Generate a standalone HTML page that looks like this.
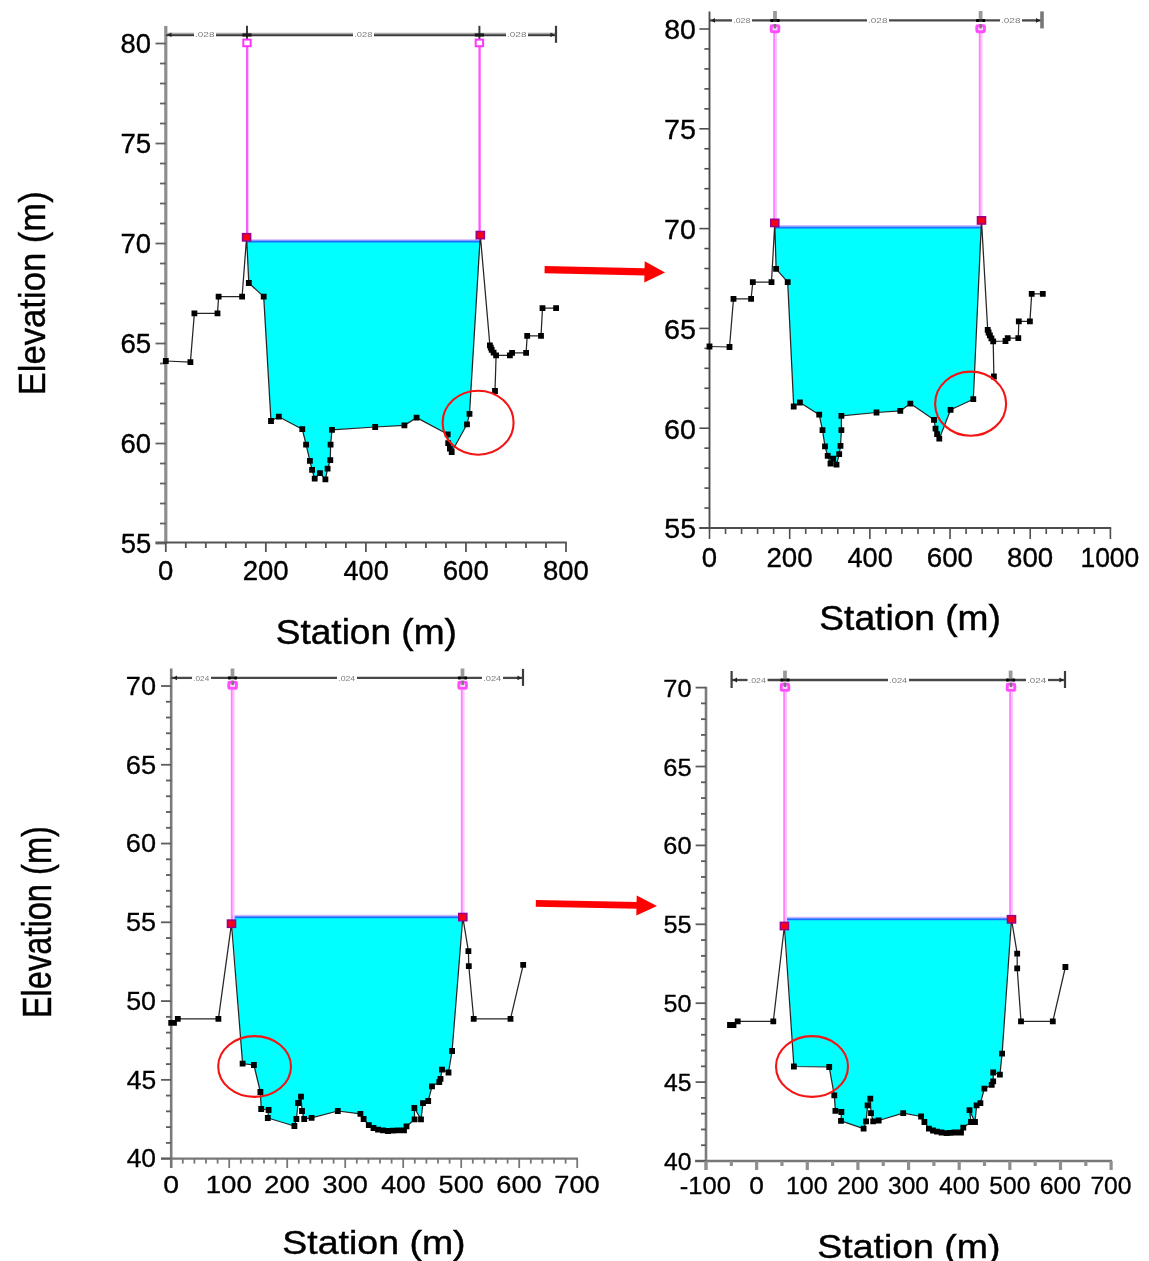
<!DOCTYPE html>
<html><head><meta charset="utf-8"><title>Cross sections</title>
<style>
html,body{margin:0;padding:0;background:#fff;}
body{width:1149px;height:1261px;overflow:hidden;}
svg{display:block;font-family:"Liberation Sans",sans-serif;filter:blur(0.7px);}
</style></head><body>
<svg width="1149" height="1261" viewBox="0 0 1149 1261">
<rect width="1149" height="1261" fill="#fff"/>
<polygon points="246.9,241.6 248.8,283.0 263.7,296.6 271.0,421.0 278.8,416.7 302.3,429.2 306.1,444.7 309.9,460.9 312.1,469.8 314.7,478.7 319.9,473.1 325.4,479.3 327.6,468.7 330.3,460.2 330.6,444.7 332.0,429.8 375.2,427.0 404.4,425.4 416.6,417.6 447.7,434.3 448.2,443.1 449.9,448.7 451.7,452.0 467.0,424.3 469.5,413.8 480.0,241.6" fill="#00ffff"/>
<line x1="246.60" y1="239.90" x2="480.30" y2="239.90" stroke="#d0b8ff" stroke-width="1.5" />
<line x1="247.10" y1="241.60" x2="480.30" y2="241.60" stroke="#1c70ff" stroke-width="2.0" />
<line x1="165.80" y1="26.00" x2="165.80" y2="543.50" stroke="#8e8e8e" stroke-width="3.2" />
<line x1="155.50" y1="542.60" x2="566.80" y2="542.60" stroke="#555" stroke-width="2.0" />
<line x1="155.50" y1="43.50" x2="165.80" y2="43.50" stroke="#626262" stroke-width="1.8" />
<line x1="155.50" y1="143.50" x2="165.80" y2="143.50" stroke="#626262" stroke-width="1.8" />
<line x1="155.50" y1="243.50" x2="165.80" y2="243.50" stroke="#626262" stroke-width="1.8" />
<line x1="155.50" y1="343.50" x2="165.80" y2="343.50" stroke="#626262" stroke-width="1.8" />
<line x1="155.50" y1="443.50" x2="165.80" y2="443.50" stroke="#626262" stroke-width="1.8" />
<line x1="155.50" y1="543.50" x2="165.80" y2="543.50" stroke="#626262" stroke-width="1.8" />
<line x1="160.00" y1="63.50" x2="165.80" y2="63.50" stroke="#626262" stroke-width="1.8" />
<line x1="160.00" y1="83.50" x2="165.80" y2="83.50" stroke="#626262" stroke-width="1.8" />
<line x1="160.00" y1="103.50" x2="165.80" y2="103.50" stroke="#626262" stroke-width="1.8" />
<line x1="160.00" y1="123.50" x2="165.80" y2="123.50" stroke="#626262" stroke-width="1.8" />
<line x1="160.00" y1="163.50" x2="165.80" y2="163.50" stroke="#626262" stroke-width="1.8" />
<line x1="160.00" y1="183.50" x2="165.80" y2="183.50" stroke="#626262" stroke-width="1.8" />
<line x1="160.00" y1="203.50" x2="165.80" y2="203.50" stroke="#626262" stroke-width="1.8" />
<line x1="160.00" y1="223.50" x2="165.80" y2="223.50" stroke="#626262" stroke-width="1.8" />
<line x1="160.00" y1="263.50" x2="165.80" y2="263.50" stroke="#626262" stroke-width="1.8" />
<line x1="160.00" y1="283.50" x2="165.80" y2="283.50" stroke="#626262" stroke-width="1.8" />
<line x1="160.00" y1="303.50" x2="165.80" y2="303.50" stroke="#626262" stroke-width="1.8" />
<line x1="160.00" y1="323.50" x2="165.80" y2="323.50" stroke="#626262" stroke-width="1.8" />
<line x1="160.00" y1="363.50" x2="165.80" y2="363.50" stroke="#626262" stroke-width="1.8" />
<line x1="160.00" y1="383.50" x2="165.80" y2="383.50" stroke="#626262" stroke-width="1.8" />
<line x1="160.00" y1="403.50" x2="165.80" y2="403.50" stroke="#626262" stroke-width="1.8" />
<line x1="160.00" y1="423.50" x2="165.80" y2="423.50" stroke="#626262" stroke-width="1.8" />
<line x1="160.00" y1="463.50" x2="165.80" y2="463.50" stroke="#626262" stroke-width="1.8" />
<line x1="160.00" y1="483.50" x2="165.80" y2="483.50" stroke="#626262" stroke-width="1.8" />
<line x1="160.00" y1="503.50" x2="165.80" y2="503.50" stroke="#626262" stroke-width="1.8" />
<line x1="160.00" y1="523.50" x2="165.80" y2="523.50" stroke="#626262" stroke-width="1.8" />
<line x1="165.80" y1="542.60" x2="165.80" y2="552.00" stroke="#555" stroke-width="1.8" />
<line x1="265.85" y1="542.60" x2="265.85" y2="552.00" stroke="#555" stroke-width="1.8" />
<line x1="365.90" y1="542.60" x2="365.90" y2="552.00" stroke="#555" stroke-width="1.8" />
<line x1="465.95" y1="542.60" x2="465.95" y2="552.00" stroke="#555" stroke-width="1.8" />
<line x1="566.00" y1="542.60" x2="566.00" y2="552.00" stroke="#555" stroke-width="1.8" />
<line x1="185.81" y1="542.60" x2="185.81" y2="548.00" stroke="#555" stroke-width="1.8" />
<line x1="205.82" y1="542.60" x2="205.82" y2="548.00" stroke="#555" stroke-width="1.8" />
<line x1="225.83" y1="542.60" x2="225.83" y2="548.00" stroke="#555" stroke-width="1.8" />
<line x1="245.84" y1="542.60" x2="245.84" y2="548.00" stroke="#555" stroke-width="1.8" />
<line x1="285.86" y1="542.60" x2="285.86" y2="548.00" stroke="#555" stroke-width="1.8" />
<line x1="305.87" y1="542.60" x2="305.87" y2="548.00" stroke="#555" stroke-width="1.8" />
<line x1="325.88" y1="542.60" x2="325.88" y2="548.00" stroke="#555" stroke-width="1.8" />
<line x1="345.89" y1="542.60" x2="345.89" y2="548.00" stroke="#555" stroke-width="1.8" />
<line x1="385.91" y1="542.60" x2="385.91" y2="548.00" stroke="#555" stroke-width="1.8" />
<line x1="405.92" y1="542.60" x2="405.92" y2="548.00" stroke="#555" stroke-width="1.8" />
<line x1="425.93" y1="542.60" x2="425.93" y2="548.00" stroke="#555" stroke-width="1.8" />
<line x1="445.94" y1="542.60" x2="445.94" y2="548.00" stroke="#555" stroke-width="1.8" />
<line x1="485.96" y1="542.60" x2="485.96" y2="548.00" stroke="#555" stroke-width="1.8" />
<line x1="505.97" y1="542.60" x2="505.97" y2="548.00" stroke="#555" stroke-width="1.8" />
<line x1="525.98" y1="542.60" x2="525.98" y2="548.00" stroke="#555" stroke-width="1.8" />
<line x1="545.99" y1="542.60" x2="545.99" y2="548.00" stroke="#555" stroke-width="1.8" />
<line x1="166.00" y1="33.50" x2="194.00" y2="33.50" stroke="#a8a8a8" stroke-width="1.6" />
<line x1="166.00" y1="35.20" x2="194.00" y2="35.20" stroke="#383838" stroke-width="2.0" />
<line x1="216.00" y1="33.50" x2="353.00" y2="33.50" stroke="#a8a8a8" stroke-width="1.6" />
<line x1="216.00" y1="35.20" x2="353.00" y2="35.20" stroke="#383838" stroke-width="2.0" />
<line x1="374.00" y1="33.50" x2="506.00" y2="33.50" stroke="#a8a8a8" stroke-width="1.6" />
<line x1="374.00" y1="35.20" x2="506.00" y2="35.20" stroke="#383838" stroke-width="2.0" />
<line x1="528.00" y1="33.50" x2="556.00" y2="33.50" stroke="#a8a8a8" stroke-width="1.6" />
<line x1="528.00" y1="35.20" x2="556.00" y2="35.20" stroke="#383838" stroke-width="2.0" />
<text transform="matrix(0.0992 0 0 0.0743 195.11 37.40)" font-size="100" fill="#7c7c7c" stroke="#7c7c7c" stroke-width="0">.028</text>
<text transform="matrix(0.0937 0 0 0.0743 354.16 37.40)" font-size="100" fill="#7c7c7c" stroke="#7c7c7c" stroke-width="0">.028</text>
<text transform="matrix(0.0992 0 0 0.0743 507.11 37.40)" font-size="100" fill="#7c7c7c" stroke="#7c7c7c" stroke-width="0">.028</text>
<line x1="247.00" y1="25.80" x2="247.00" y2="40.80" stroke="#3c3c3c" stroke-width="2.0" />
<line x1="242.40" y1="35.00" x2="251.60" y2="35.00" stroke="#1a1a1a" stroke-width="3.2" />
<line x1="479.40" y1="25.80" x2="479.40" y2="40.80" stroke="#3c3c3c" stroke-width="2.0" />
<line x1="474.80" y1="35.00" x2="484.00" y2="35.00" stroke="#1a1a1a" stroke-width="3.2" />
<line x1="556.00" y1="25.80" x2="556.00" y2="42.80" stroke="#3c3c3c" stroke-width="2.2" />
<path d="M167.5 34.8l4 -2.4v4.8z" fill="#222"/>
<path d="M554.5 34.8l-4 -2.4v4.8z" fill="#222"/>
<line x1="247.20" y1="47.00" x2="247.20" y2="234.00" stroke="#ff54ff" stroke-width="2.3" />
<rect x="243.3" y="39.6" width="7.4" height="6.6" fill="#fff" stroke="#ff36ff" stroke-width="2.0"/>
<line x1="479.60" y1="47.00" x2="479.60" y2="232.00" stroke="#ff54ff" stroke-width="2.3" />
<rect x="475.7" y="39.6" width="7.4" height="6.6" fill="#fff" stroke="#ff36ff" stroke-width="2.0"/>
<polyline points="165.8,361.0 190.4,362.1 194.4,313.3 217.5,313.3 218.6,296.6 242.1,296.6 246.6,237.3 248.8,283.0 263.7,296.6 271.0,421.0 278.8,416.7 302.3,429.2 306.1,444.7 309.9,460.9 312.1,469.8 314.7,478.7 319.9,473.1 325.4,479.3 327.6,468.7 330.3,460.2 330.6,444.7 332.0,429.8 375.2,427.0 404.4,425.4 416.6,417.6 447.7,434.3 448.2,443.1 449.9,448.7 451.7,452.0 467.0,424.3 469.5,413.8 480.3,235.1 489.9,345.4 490.8,347.6 491.7,349.9 493.6,352.6 496.1,355.4 495.0,391.0 496.1,355.4 509.9,355.4 512.1,352.8 526.1,352.8 527.2,335.9 541.0,335.9 542.5,308.1 556.1,308.1" fill="none" stroke="#262626" stroke-width="1.25" stroke-linejoin="round" />
<path d="M162.9 358.1h5.8v5.8h-5.8zM187.5 359.2h5.8v5.8h-5.8zM191.5 310.4h5.8v5.8h-5.8zM214.6 310.4h5.8v5.8h-5.8zM215.7 293.7h5.8v5.8h-5.8zM239.2 293.7h5.8v5.8h-5.8zM245.9 280.1h5.8v5.8h-5.8zM260.8 293.7h5.8v5.8h-5.8zM268.1 418.1h5.8v5.8h-5.8zM275.9 413.8h5.8v5.8h-5.8zM299.4 426.3h5.8v5.8h-5.8zM303.2 441.8h5.8v5.8h-5.8zM307.0 458.0h5.8v5.8h-5.8zM309.2 466.9h5.8v5.8h-5.8zM311.8 475.8h5.8v5.8h-5.8zM317.0 470.2h5.8v5.8h-5.8zM322.5 476.4h5.8v5.8h-5.8zM324.7 465.8h5.8v5.8h-5.8zM327.4 457.3h5.8v5.8h-5.8zM327.7 441.8h5.8v5.8h-5.8zM329.1 426.9h5.8v5.8h-5.8zM372.3 424.1h5.8v5.8h-5.8zM401.5 422.5h5.8v5.8h-5.8zM413.7 414.7h5.8v5.8h-5.8zM444.8 431.4h5.8v5.8h-5.8zM445.3 440.2h5.8v5.8h-5.8zM447.0 445.8h5.8v5.8h-5.8zM448.8 449.1h5.8v5.8h-5.8zM464.1 421.4h5.8v5.8h-5.8zM466.6 410.9h5.8v5.8h-5.8zM487.0 342.5h5.8v5.8h-5.8zM487.9 344.7h5.8v5.8h-5.8zM488.8 347.0h5.8v5.8h-5.8zM490.7 349.7h5.8v5.8h-5.8zM493.2 352.5h5.8v5.8h-5.8zM492.1 388.1h5.8v5.8h-5.8zM493.2 352.5h5.8v5.8h-5.8zM507.0 352.5h5.8v5.8h-5.8zM509.2 349.9h5.8v5.8h-5.8zM523.2 349.9h5.8v5.8h-5.8zM524.3 333.0h5.8v5.8h-5.8zM538.1 333.0h5.8v5.8h-5.8zM539.6 305.2h5.8v5.8h-5.8zM553.2 305.2h5.8v5.8h-5.8z" fill="#000"/>
<rect x="242.6" y="233.7" width="8.0" height="7.2" fill="#fa0014" stroke="#9c0088" stroke-width="1.6"/>
<rect x="476.3" y="231.5" width="8.0" height="7.2" fill="#fa0014" stroke="#9c0088" stroke-width="1.6"/>
<ellipse cx="478.1" cy="422.7" rx="35.5" ry="32" fill="none" stroke="#f41414" stroke-width="2.1"/>
<text transform="matrix(0.2738 0 0 0.2743 120.57 53.10)" font-size="100" fill="#000" stroke="#000" stroke-width="1.3">80</text>
<text transform="matrix(0.2765 0 0 0.2783 120.42 153.10)" font-size="100" fill="#000" stroke="#000" stroke-width="1.3">75</text>
<text transform="matrix(0.2751 0 0 0.2743 120.42 253.10)" font-size="100" fill="#000" stroke="#000" stroke-width="1.3">70</text>
<text transform="matrix(0.2765 0 0 0.2743 120.42 353.10)" font-size="100" fill="#000" stroke="#000" stroke-width="1.3">65</text>
<text transform="matrix(0.2751 0 0 0.2743 120.42 453.10)" font-size="100" fill="#000" stroke="#000" stroke-width="1.3">60</text>
<text transform="matrix(0.2738 0 0 0.2783 120.70 553.10)" font-size="100" fill="#000" stroke="#000" stroke-width="1.3">55</text>
<text transform="matrix(0.2750 0 0 0.2686 158.10 579.60)" font-size="100" fill="#000" stroke="#000" stroke-width="1.3">0</text>
<text transform="matrix(0.2759 0 0 0.2686 242.67 579.60)" font-size="100" fill="#000" stroke="#000" stroke-width="1.3">200</text>
<text transform="matrix(0.2708 0 0 0.2686 343.56 579.60)" font-size="100" fill="#000" stroke="#000" stroke-width="1.3">400</text>
<text transform="matrix(0.2759 0 0 0.2686 442.77 579.60)" font-size="100" fill="#000" stroke="#000" stroke-width="1.3">600</text>
<text transform="matrix(0.2751 0 0 0.2686 542.96 579.60)" font-size="100" fill="#000" stroke="#000" stroke-width="1.3">800</text>
<polygon points="775.1,227.4 776.1,268.8 787.7,282.1 793.7,406.5 799.9,402.5 819.2,414.7 822.5,430.2 825.0,446.4 827.7,455.8 830.5,463.5 833.2,458.7 836.5,464.6 839.2,454.2 840.5,445.8 841.4,430.2 841.4,415.8 876.5,412.5 900.3,410.9 910.3,403.6 934.0,419.8 935.5,428.7 937.1,434.2 939.3,438.7 950.6,409.8 973.3,399.2 981.2,227.4" fill="#00ffff"/>
<line x1="774.80" y1="225.70" x2="981.50" y2="225.70" stroke="#d0b8ff" stroke-width="1.5" />
<line x1="775.30" y1="227.40" x2="981.50" y2="227.40" stroke="#1c70ff" stroke-width="2.0" />
<line x1="709.50" y1="11.60" x2="709.50" y2="528.80" stroke="#4e4e4e" stroke-width="1.9" />
<line x1="699.40" y1="528.00" x2="1111.20" y2="528.00" stroke="#4e4e4e" stroke-width="1.9" />
<line x1="699.40" y1="29.00" x2="709.50" y2="29.00" stroke="#4e4e4e" stroke-width="1.6" />
<line x1="699.40" y1="128.80" x2="709.50" y2="128.80" stroke="#4e4e4e" stroke-width="1.6" />
<line x1="699.40" y1="228.60" x2="709.50" y2="228.60" stroke="#4e4e4e" stroke-width="1.6" />
<line x1="699.40" y1="328.40" x2="709.50" y2="328.40" stroke="#4e4e4e" stroke-width="1.6" />
<line x1="699.40" y1="428.20" x2="709.50" y2="428.20" stroke="#4e4e4e" stroke-width="1.6" />
<line x1="699.40" y1="528.00" x2="709.50" y2="528.00" stroke="#4e4e4e" stroke-width="1.6" />
<line x1="704.40" y1="48.96" x2="709.50" y2="48.96" stroke="#4e4e4e" stroke-width="1.6" />
<line x1="704.40" y1="68.92" x2="709.50" y2="68.92" stroke="#4e4e4e" stroke-width="1.6" />
<line x1="704.40" y1="88.88" x2="709.50" y2="88.88" stroke="#4e4e4e" stroke-width="1.6" />
<line x1="704.40" y1="108.84" x2="709.50" y2="108.84" stroke="#4e4e4e" stroke-width="1.6" />
<line x1="704.40" y1="148.76" x2="709.50" y2="148.76" stroke="#4e4e4e" stroke-width="1.6" />
<line x1="704.40" y1="168.72" x2="709.50" y2="168.72" stroke="#4e4e4e" stroke-width="1.6" />
<line x1="704.40" y1="188.68" x2="709.50" y2="188.68" stroke="#4e4e4e" stroke-width="1.6" />
<line x1="704.40" y1="208.64" x2="709.50" y2="208.64" stroke="#4e4e4e" stroke-width="1.6" />
<line x1="704.40" y1="248.56" x2="709.50" y2="248.56" stroke="#4e4e4e" stroke-width="1.6" />
<line x1="704.40" y1="268.52" x2="709.50" y2="268.52" stroke="#4e4e4e" stroke-width="1.6" />
<line x1="704.40" y1="288.48" x2="709.50" y2="288.48" stroke="#4e4e4e" stroke-width="1.6" />
<line x1="704.40" y1="308.44" x2="709.50" y2="308.44" stroke="#4e4e4e" stroke-width="1.6" />
<line x1="704.40" y1="348.36" x2="709.50" y2="348.36" stroke="#4e4e4e" stroke-width="1.6" />
<line x1="704.40" y1="368.32" x2="709.50" y2="368.32" stroke="#4e4e4e" stroke-width="1.6" />
<line x1="704.40" y1="388.28" x2="709.50" y2="388.28" stroke="#4e4e4e" stroke-width="1.6" />
<line x1="704.40" y1="408.24" x2="709.50" y2="408.24" stroke="#4e4e4e" stroke-width="1.6" />
<line x1="704.40" y1="448.16" x2="709.50" y2="448.16" stroke="#4e4e4e" stroke-width="1.6" />
<line x1="704.40" y1="468.12" x2="709.50" y2="468.12" stroke="#4e4e4e" stroke-width="1.6" />
<line x1="704.40" y1="488.08" x2="709.50" y2="488.08" stroke="#4e4e4e" stroke-width="1.6" />
<line x1="704.40" y1="508.04" x2="709.50" y2="508.04" stroke="#4e4e4e" stroke-width="1.6" />
<line x1="709.50" y1="528.00" x2="709.50" y2="539.00" stroke="#4e4e4e" stroke-width="1.6" />
<line x1="789.68" y1="528.00" x2="789.68" y2="539.00" stroke="#4e4e4e" stroke-width="1.6" />
<line x1="869.86" y1="528.00" x2="869.86" y2="539.00" stroke="#4e4e4e" stroke-width="1.6" />
<line x1="950.04" y1="528.00" x2="950.04" y2="539.00" stroke="#4e4e4e" stroke-width="1.6" />
<line x1="1030.22" y1="528.00" x2="1030.22" y2="539.00" stroke="#4e4e4e" stroke-width="1.6" />
<line x1="1110.40" y1="528.00" x2="1110.40" y2="539.00" stroke="#4e4e4e" stroke-width="1.6" />
<line x1="725.54" y1="528.00" x2="725.54" y2="534.00" stroke="#4e4e4e" stroke-width="1.6" />
<line x1="741.57" y1="528.00" x2="741.57" y2="534.00" stroke="#4e4e4e" stroke-width="1.6" />
<line x1="757.61" y1="528.00" x2="757.61" y2="534.00" stroke="#4e4e4e" stroke-width="1.6" />
<line x1="773.64" y1="528.00" x2="773.64" y2="534.00" stroke="#4e4e4e" stroke-width="1.6" />
<line x1="805.72" y1="528.00" x2="805.72" y2="534.00" stroke="#4e4e4e" stroke-width="1.6" />
<line x1="821.75" y1="528.00" x2="821.75" y2="534.00" stroke="#4e4e4e" stroke-width="1.6" />
<line x1="837.79" y1="528.00" x2="837.79" y2="534.00" stroke="#4e4e4e" stroke-width="1.6" />
<line x1="853.82" y1="528.00" x2="853.82" y2="534.00" stroke="#4e4e4e" stroke-width="1.6" />
<line x1="885.90" y1="528.00" x2="885.90" y2="534.00" stroke="#4e4e4e" stroke-width="1.6" />
<line x1="901.93" y1="528.00" x2="901.93" y2="534.00" stroke="#4e4e4e" stroke-width="1.6" />
<line x1="917.97" y1="528.00" x2="917.97" y2="534.00" stroke="#4e4e4e" stroke-width="1.6" />
<line x1="934.00" y1="528.00" x2="934.00" y2="534.00" stroke="#4e4e4e" stroke-width="1.6" />
<line x1="966.08" y1="528.00" x2="966.08" y2="534.00" stroke="#4e4e4e" stroke-width="1.6" />
<line x1="982.11" y1="528.00" x2="982.11" y2="534.00" stroke="#4e4e4e" stroke-width="1.6" />
<line x1="998.15" y1="528.00" x2="998.15" y2="534.00" stroke="#4e4e4e" stroke-width="1.6" />
<line x1="1014.18" y1="528.00" x2="1014.18" y2="534.00" stroke="#4e4e4e" stroke-width="1.6" />
<line x1="1046.26" y1="528.00" x2="1046.26" y2="534.00" stroke="#4e4e4e" stroke-width="1.6" />
<line x1="1062.29" y1="528.00" x2="1062.29" y2="534.00" stroke="#4e4e4e" stroke-width="1.6" />
<line x1="1078.33" y1="528.00" x2="1078.33" y2="534.00" stroke="#4e4e4e" stroke-width="1.6" />
<line x1="1094.36" y1="528.00" x2="1094.36" y2="534.00" stroke="#4e4e4e" stroke-width="1.6" />
<line x1="709.50" y1="20.40" x2="732.00" y2="20.40" stroke="#484848" stroke-width="2.3" />
<line x1="752.00" y1="20.40" x2="867.00" y2="20.40" stroke="#484848" stroke-width="2.3" />
<line x1="889.00" y1="20.40" x2="1000.00" y2="20.40" stroke="#484848" stroke-width="2.3" />
<line x1="1022.00" y1="20.40" x2="1042.00" y2="20.40" stroke="#484848" stroke-width="2.3" />
<text transform="matrix(0.0882 0 0 0.0743 733.21 23.00)" font-size="100" fill="#7c7c7c" stroke="#7c7c7c" stroke-width="0">.028</text>
<text transform="matrix(0.0992 0 0 0.0743 868.11 23.00)" font-size="100" fill="#7c7c7c" stroke="#7c7c7c" stroke-width="0">.028</text>
<text transform="matrix(0.0992 0 0 0.0743 1001.11 23.00)" font-size="100" fill="#7c7c7c" stroke="#7c7c7c" stroke-width="0">.028</text>
<line x1="775.00" y1="11.00" x2="775.00" y2="20.40" stroke="#9a9a9a" stroke-width="3.8" />
<line x1="770.40" y1="20.40" x2="779.60" y2="20.40" stroke="#222" stroke-width="2.6" />
<circle cx="771.9" cy="20.4" r="1.5" fill="#000"/><circle cx="778.1" cy="20.4" r="1.5" fill="#000"/>
<line x1="980.60" y1="11.00" x2="980.60" y2="20.40" stroke="#9a9a9a" stroke-width="3.8" />
<line x1="976.00" y1="20.40" x2="985.20" y2="20.40" stroke="#222" stroke-width="2.6" />
<circle cx="977.5" cy="20.4" r="1.5" fill="#000"/><circle cx="983.7" cy="20.4" r="1.5" fill="#000"/>
<line x1="1042.00" y1="11.40" x2="1042.00" y2="28.40" stroke="#777" stroke-width="3.6" />
<path d="M711.0 20.4l4 -2.4v4.8z" fill="#222"/>
<path d="M1040.0 20.4l-4 -2.4v4.8z" fill="#222"/>
<line x1="774.20" y1="33.00" x2="774.20" y2="220.00" stroke="#ff80ff" stroke-width="2.0" />
<line x1="776.10" y1="33.00" x2="776.10" y2="220.00" stroke="#ffc6ff" stroke-width="1.8" />
<rect x="771.2" y="25.6" width="7.6" height="6.2" rx="1" fill="#fdf" stroke="#ff4cff" stroke-width="2.9"/>
<line x1="775.00" y1="24.00" x2="775.00" y2="28.50" stroke="#777" stroke-width="2.4" />
<line x1="979.80" y1="33.00" x2="979.80" y2="217.00" stroke="#ff80ff" stroke-width="2.0" />
<line x1="981.70" y1="33.00" x2="981.70" y2="217.00" stroke="#ffc6ff" stroke-width="1.8" />
<rect x="976.8" y="25.6" width="7.6" height="6.2" rx="1" fill="#fdf" stroke="#ff4cff" stroke-width="2.9"/>
<line x1="980.60" y1="24.00" x2="980.60" y2="28.50" stroke="#777" stroke-width="2.4" />
<polyline points="709.5,346.5 729.5,347.0 733.5,298.8 751.1,298.8 752.8,282.1 771.5,282.1 774.8,222.9 776.1,268.8 787.7,282.1 793.7,406.5 799.9,402.5 819.2,414.7 822.5,430.2 825.0,446.4 827.7,455.8 830.5,463.5 833.2,458.7 836.5,464.6 839.2,454.2 840.5,445.8 841.4,430.2 841.4,415.8 876.5,412.5 900.3,410.9 910.3,403.6 934.0,419.8 935.5,428.7 937.1,434.2 939.3,438.7 950.6,409.8 973.3,399.2 981.5,220.4 987.7,329.9 988.6,332.5 989.9,335.4 991.4,338.4 993.2,341.4 993.9,376.5 993.2,341.4 1005.5,341.0 1007.7,338.1 1018.3,338.1 1018.8,321.4 1029.9,321.4 1031.7,293.9 1042.8,293.9" fill="none" stroke="#262626" stroke-width="1.25" stroke-linejoin="round" />
<path d="M706.6 343.6h5.8v5.8h-5.8zM726.6 344.1h5.8v5.8h-5.8zM730.6 295.9h5.8v5.8h-5.8zM748.2 295.9h5.8v5.8h-5.8zM749.9 279.2h5.8v5.8h-5.8zM768.6 279.2h5.8v5.8h-5.8zM773.2 265.9h5.8v5.8h-5.8zM784.8 279.2h5.8v5.8h-5.8zM790.8 403.6h5.8v5.8h-5.8zM797.0 399.6h5.8v5.8h-5.8zM816.3 411.8h5.8v5.8h-5.8zM819.6 427.3h5.8v5.8h-5.8zM822.1 443.5h5.8v5.8h-5.8zM824.8 452.9h5.8v5.8h-5.8zM827.6 460.6h5.8v5.8h-5.8zM830.3 455.8h5.8v5.8h-5.8zM833.6 461.7h5.8v5.8h-5.8zM836.3 451.3h5.8v5.8h-5.8zM837.6 442.9h5.8v5.8h-5.8zM838.5 427.3h5.8v5.8h-5.8zM838.5 412.9h5.8v5.8h-5.8zM873.6 409.6h5.8v5.8h-5.8zM897.4 408.0h5.8v5.8h-5.8zM907.4 400.7h5.8v5.8h-5.8zM931.1 416.9h5.8v5.8h-5.8zM932.6 425.8h5.8v5.8h-5.8zM934.2 431.3h5.8v5.8h-5.8zM936.4 435.8h5.8v5.8h-5.8zM947.7 406.9h5.8v5.8h-5.8zM970.4 396.3h5.8v5.8h-5.8zM984.8 327.0h5.8v5.8h-5.8zM985.7 329.6h5.8v5.8h-5.8zM987.0 332.5h5.8v5.8h-5.8zM988.5 335.5h5.8v5.8h-5.8zM990.3 338.5h5.8v5.8h-5.8zM991.0 373.6h5.8v5.8h-5.8zM990.3 338.5h5.8v5.8h-5.8zM1002.6 338.1h5.8v5.8h-5.8zM1004.8 335.2h5.8v5.8h-5.8zM1015.4 335.2h5.8v5.8h-5.8zM1015.9 318.5h5.8v5.8h-5.8zM1027.0 318.5h5.8v5.8h-5.8zM1028.8 291.0h5.8v5.8h-5.8zM1039.9 291.0h5.8v5.8h-5.8z" fill="#000"/>
<rect x="770.8" y="219.3" width="8.0" height="7.2" fill="#fa0014" stroke="#9c0088" stroke-width="1.6"/>
<rect x="977.5" y="216.8" width="8.0" height="7.2" fill="#fa0014" stroke="#9c0088" stroke-width="1.6"/>
<ellipse cx="970.6" cy="403.7" rx="35.5" ry="32.1" fill="none" stroke="#f41414" stroke-width="2.1"/>
<text transform="matrix(0.2845 0 0 0.2714 664.22 39.40)" font-size="100" fill="#000" stroke="#000" stroke-width="1.3">80</text>
<text transform="matrix(0.2873 0 0 0.2754 664.06 139.20)" font-size="100" fill="#000" stroke="#000" stroke-width="1.3">75</text>
<text transform="matrix(0.2859 0 0 0.2714 664.07 239.00)" font-size="100" fill="#000" stroke="#000" stroke-width="1.3">70</text>
<text transform="matrix(0.2873 0 0 0.2714 664.06 338.80)" font-size="100" fill="#000" stroke="#000" stroke-width="1.3">65</text>
<text transform="matrix(0.2859 0 0 0.2714 664.07 438.60)" font-size="100" fill="#000" stroke="#000" stroke-width="1.3">60</text>
<text transform="matrix(0.2845 0 0 0.2754 664.36 538.40)" font-size="100" fill="#000" stroke="#000" stroke-width="1.3">55</text>
<text transform="matrix(0.2750 0 0 0.2714 701.80 566.60)" font-size="100" fill="#000" stroke="#000" stroke-width="1.3">0</text>
<text transform="matrix(0.2772 0 0 0.2714 766.39 566.60)" font-size="100" fill="#000" stroke="#000" stroke-width="1.3">200</text>
<text transform="matrix(0.2720 0 0 0.2714 847.42 566.60)" font-size="100" fill="#000" stroke="#000" stroke-width="1.3">400</text>
<text transform="matrix(0.2772 0 0 0.2714 926.75 566.60)" font-size="100" fill="#000" stroke="#000" stroke-width="1.3">600</text>
<text transform="matrix(0.2763 0 0 0.2714 1007.08 566.60)" font-size="100" fill="#000" stroke="#000" stroke-width="1.3">800</text>
<text transform="matrix(0.2648 0 0 0.2714 1080.41 566.60)" font-size="100" fill="#000" stroke="#000" stroke-width="1.3">1000</text>
<polygon points="231.8,917.2 242.6,1063.6 253.9,1065.0 260.4,1092.0 261.2,1109.0 268.6,1110.0 267.8,1118.0 294.4,1126.0 296.4,1119.0 298.1,1103.0 301.0,1096.6 302.0,1111.0 304.2,1119.0 311.6,1117.8 337.8,1111.0 360.4,1113.9 363.6,1119.0 368.8,1125.2 373.5,1128.0 378.0,1129.6 383.0,1130.4 388.0,1131.0 393.0,1130.6 398.0,1130.4 401.0,1130.4 404.0,1130.4 406.5,1126.3 414.6,1119.4 414.4,1108.0 421.0,1119.4 423.0,1103.1 428.2,1101.0 432.0,1086.3 439.3,1082.0 440.5,1078.8 442.0,1069.7 448.5,1072.5 452.1,1051.0 462.5,917.2" fill="#00ffff"/>
<line x1="231.50" y1="915.50" x2="462.80" y2="915.50" stroke="#d0b8ff" stroke-width="1.5" />
<line x1="232.00" y1="917.20" x2="462.80" y2="917.20" stroke="#1c70ff" stroke-width="2.0" />
<line x1="171.20" y1="668.60" x2="171.20" y2="1168.00" stroke="#7c7c7c" stroke-width="2.6" />
<line x1="161.00" y1="1158.60" x2="578.00" y2="1158.60" stroke="#777" stroke-width="2.4" />
<line x1="161.00" y1="686.00" x2="171.20" y2="686.00" stroke="#5c5c5c" stroke-width="1.8" />
<line x1="161.00" y1="764.77" x2="171.20" y2="764.77" stroke="#5c5c5c" stroke-width="1.8" />
<line x1="161.00" y1="843.54" x2="171.20" y2="843.54" stroke="#5c5c5c" stroke-width="1.8" />
<line x1="161.00" y1="922.31" x2="171.20" y2="922.31" stroke="#5c5c5c" stroke-width="1.8" />
<line x1="161.00" y1="1001.08" x2="171.20" y2="1001.08" stroke="#5c5c5c" stroke-width="1.8" />
<line x1="161.00" y1="1079.85" x2="171.20" y2="1079.85" stroke="#5c5c5c" stroke-width="1.8" />
<line x1="161.00" y1="1158.62" x2="171.20" y2="1158.62" stroke="#5c5c5c" stroke-width="1.8" />
<line x1="166.00" y1="701.75" x2="171.20" y2="701.75" stroke="#5c5c5c" stroke-width="1.8" />
<line x1="166.00" y1="717.51" x2="171.20" y2="717.51" stroke="#5c5c5c" stroke-width="1.8" />
<line x1="166.00" y1="733.26" x2="171.20" y2="733.26" stroke="#5c5c5c" stroke-width="1.8" />
<line x1="166.00" y1="749.02" x2="171.20" y2="749.02" stroke="#5c5c5c" stroke-width="1.8" />
<line x1="166.00" y1="780.52" x2="171.20" y2="780.52" stroke="#5c5c5c" stroke-width="1.8" />
<line x1="166.00" y1="796.28" x2="171.20" y2="796.28" stroke="#5c5c5c" stroke-width="1.8" />
<line x1="166.00" y1="812.03" x2="171.20" y2="812.03" stroke="#5c5c5c" stroke-width="1.8" />
<line x1="166.00" y1="827.79" x2="171.20" y2="827.79" stroke="#5c5c5c" stroke-width="1.8" />
<line x1="166.00" y1="859.29" x2="171.20" y2="859.29" stroke="#5c5c5c" stroke-width="1.8" />
<line x1="166.00" y1="875.05" x2="171.20" y2="875.05" stroke="#5c5c5c" stroke-width="1.8" />
<line x1="166.00" y1="890.80" x2="171.20" y2="890.80" stroke="#5c5c5c" stroke-width="1.8" />
<line x1="166.00" y1="906.56" x2="171.20" y2="906.56" stroke="#5c5c5c" stroke-width="1.8" />
<line x1="166.00" y1="938.06" x2="171.20" y2="938.06" stroke="#5c5c5c" stroke-width="1.8" />
<line x1="166.00" y1="953.82" x2="171.20" y2="953.82" stroke="#5c5c5c" stroke-width="1.8" />
<line x1="166.00" y1="969.57" x2="171.20" y2="969.57" stroke="#5c5c5c" stroke-width="1.8" />
<line x1="166.00" y1="985.33" x2="171.20" y2="985.33" stroke="#5c5c5c" stroke-width="1.8" />
<line x1="166.00" y1="1016.83" x2="171.20" y2="1016.83" stroke="#5c5c5c" stroke-width="1.8" />
<line x1="166.00" y1="1032.59" x2="171.20" y2="1032.59" stroke="#5c5c5c" stroke-width="1.8" />
<line x1="166.00" y1="1048.34" x2="171.20" y2="1048.34" stroke="#5c5c5c" stroke-width="1.8" />
<line x1="166.00" y1="1064.10" x2="171.20" y2="1064.10" stroke="#5c5c5c" stroke-width="1.8" />
<line x1="166.00" y1="1095.60" x2="171.20" y2="1095.60" stroke="#5c5c5c" stroke-width="1.8" />
<line x1="166.00" y1="1111.36" x2="171.20" y2="1111.36" stroke="#5c5c5c" stroke-width="1.8" />
<line x1="166.00" y1="1127.11" x2="171.20" y2="1127.11" stroke="#5c5c5c" stroke-width="1.8" />
<line x1="166.00" y1="1142.87" x2="171.20" y2="1142.87" stroke="#5c5c5c" stroke-width="1.8" />
<line x1="171.20" y1="1158.60" x2="171.20" y2="1168.00" stroke="#777" stroke-width="1.8" />
<line x1="229.20" y1="1158.60" x2="229.20" y2="1168.00" stroke="#777" stroke-width="1.8" />
<line x1="287.20" y1="1158.60" x2="287.20" y2="1168.00" stroke="#777" stroke-width="1.8" />
<line x1="345.20" y1="1158.60" x2="345.20" y2="1168.00" stroke="#777" stroke-width="1.8" />
<line x1="403.20" y1="1158.60" x2="403.20" y2="1168.00" stroke="#777" stroke-width="1.8" />
<line x1="461.20" y1="1158.60" x2="461.20" y2="1168.00" stroke="#777" stroke-width="1.8" />
<line x1="519.20" y1="1158.60" x2="519.20" y2="1168.00" stroke="#777" stroke-width="1.8" />
<line x1="577.20" y1="1158.60" x2="577.20" y2="1168.00" stroke="#777" stroke-width="1.8" />
<line x1="182.80" y1="1158.60" x2="182.80" y2="1163.60" stroke="#777" stroke-width="1.8" />
<line x1="194.40" y1="1158.60" x2="194.40" y2="1163.60" stroke="#777" stroke-width="1.8" />
<line x1="206.00" y1="1158.60" x2="206.00" y2="1163.60" stroke="#777" stroke-width="1.8" />
<line x1="217.60" y1="1158.60" x2="217.60" y2="1163.60" stroke="#777" stroke-width="1.8" />
<line x1="240.80" y1="1158.60" x2="240.80" y2="1163.60" stroke="#777" stroke-width="1.8" />
<line x1="252.40" y1="1158.60" x2="252.40" y2="1163.60" stroke="#777" stroke-width="1.8" />
<line x1="264.00" y1="1158.60" x2="264.00" y2="1163.60" stroke="#777" stroke-width="1.8" />
<line x1="275.60" y1="1158.60" x2="275.60" y2="1163.60" stroke="#777" stroke-width="1.8" />
<line x1="298.80" y1="1158.60" x2="298.80" y2="1163.60" stroke="#777" stroke-width="1.8" />
<line x1="310.40" y1="1158.60" x2="310.40" y2="1163.60" stroke="#777" stroke-width="1.8" />
<line x1="322.00" y1="1158.60" x2="322.00" y2="1163.60" stroke="#777" stroke-width="1.8" />
<line x1="333.60" y1="1158.60" x2="333.60" y2="1163.60" stroke="#777" stroke-width="1.8" />
<line x1="356.80" y1="1158.60" x2="356.80" y2="1163.60" stroke="#777" stroke-width="1.8" />
<line x1="368.40" y1="1158.60" x2="368.40" y2="1163.60" stroke="#777" stroke-width="1.8" />
<line x1="380.00" y1="1158.60" x2="380.00" y2="1163.60" stroke="#777" stroke-width="1.8" />
<line x1="391.60" y1="1158.60" x2="391.60" y2="1163.60" stroke="#777" stroke-width="1.8" />
<line x1="414.80" y1="1158.60" x2="414.80" y2="1163.60" stroke="#777" stroke-width="1.8" />
<line x1="426.40" y1="1158.60" x2="426.40" y2="1163.60" stroke="#777" stroke-width="1.8" />
<line x1="438.00" y1="1158.60" x2="438.00" y2="1163.60" stroke="#777" stroke-width="1.8" />
<line x1="449.60" y1="1158.60" x2="449.60" y2="1163.60" stroke="#777" stroke-width="1.8" />
<line x1="472.80" y1="1158.60" x2="472.80" y2="1163.60" stroke="#777" stroke-width="1.8" />
<line x1="484.40" y1="1158.60" x2="484.40" y2="1163.60" stroke="#777" stroke-width="1.8" />
<line x1="496.00" y1="1158.60" x2="496.00" y2="1163.60" stroke="#777" stroke-width="1.8" />
<line x1="507.60" y1="1158.60" x2="507.60" y2="1163.60" stroke="#777" stroke-width="1.8" />
<line x1="530.80" y1="1158.60" x2="530.80" y2="1163.60" stroke="#777" stroke-width="1.8" />
<line x1="542.40" y1="1158.60" x2="542.40" y2="1163.60" stroke="#777" stroke-width="1.8" />
<line x1="554.00" y1="1158.60" x2="554.00" y2="1163.60" stroke="#777" stroke-width="1.8" />
<line x1="565.60" y1="1158.60" x2="565.60" y2="1163.60" stroke="#777" stroke-width="1.8" />
<line x1="171.20" y1="677.90" x2="192.00" y2="677.90" stroke="#484848" stroke-width="2.3" />
<line x1="211.00" y1="677.90" x2="337.00" y2="677.90" stroke="#484848" stroke-width="2.3" />
<line x1="357.00" y1="677.90" x2="482.00" y2="677.90" stroke="#484848" stroke-width="2.3" />
<line x1="503.00" y1="677.90" x2="523.00" y2="677.90" stroke="#484848" stroke-width="2.3" />
<text transform="matrix(0.0822 0 0 0.0743 193.26 680.50)" font-size="100" fill="#7c7c7c" stroke="#7c7c7c" stroke-width="0">.024</text>
<text transform="matrix(0.0877 0 0 0.0743 338.21 680.50)" font-size="100" fill="#7c7c7c" stroke="#7c7c7c" stroke-width="0">.024</text>
<text transform="matrix(0.0932 0 0 0.0743 483.16 680.50)" font-size="100" fill="#7c7c7c" stroke="#7c7c7c" stroke-width="0">.024</text>
<line x1="232.50" y1="668.50" x2="232.50" y2="677.90" stroke="#9a9a9a" stroke-width="3.8" />
<line x1="227.90" y1="677.90" x2="237.10" y2="677.90" stroke="#222" stroke-width="2.6" />
<circle cx="229.4" cy="677.9" r="1.5" fill="#000"/><circle cx="235.6" cy="677.9" r="1.5" fill="#000"/>
<line x1="462.50" y1="668.50" x2="462.50" y2="677.90" stroke="#9a9a9a" stroke-width="3.8" />
<line x1="457.90" y1="677.90" x2="467.10" y2="677.90" stroke="#222" stroke-width="2.6" />
<circle cx="459.4" cy="677.9" r="1.5" fill="#000"/><circle cx="465.6" cy="677.9" r="1.5" fill="#000"/>
<line x1="523.00" y1="668.90" x2="523.00" y2="685.90" stroke="#3c3c3c" stroke-width="2.2" />
<path d="M173.0 677.9l4 -2.4v4.8z" fill="#222"/>
<path d="M521.5 677.9l-4 -2.4v4.8z" fill="#222"/>
<line x1="231.80" y1="689.60" x2="231.80" y2="921.00" stroke="#ff80ff" stroke-width="2.0" />
<line x1="233.70" y1="689.60" x2="233.70" y2="921.00" stroke="#ffc6ff" stroke-width="1.8" />
<rect x="228.8" y="682.2" width="7.6" height="6.2" rx="1" fill="#fdf" stroke="#ff4cff" stroke-width="2.9"/>
<line x1="232.60" y1="680.60" x2="232.60" y2="685.10" stroke="#777" stroke-width="2.4" />
<line x1="461.80" y1="689.60" x2="461.80" y2="914.00" stroke="#ff80ff" stroke-width="2.0" />
<line x1="463.70" y1="689.60" x2="463.70" y2="914.00" stroke="#ffc6ff" stroke-width="1.8" />
<rect x="458.8" y="682.2" width="7.6" height="6.2" rx="1" fill="#fdf" stroke="#ff4cff" stroke-width="2.9"/>
<line x1="462.60" y1="680.60" x2="462.60" y2="685.10" stroke="#777" stroke-width="2.4" />
<polyline points="171.2,1022.8 174.0,1022.8 177.8,1018.8 218.4,1018.8 231.5,923.7 242.6,1063.6 253.9,1065.0 260.4,1092.0 261.2,1109.0 268.6,1110.0 267.8,1118.0 294.4,1126.0 296.4,1119.0 298.1,1103.0 301.0,1096.6 302.0,1111.0 304.2,1119.0 311.6,1117.8 337.8,1111.0 360.4,1113.9 363.6,1119.0 368.8,1125.2 373.5,1128.0 378.0,1129.6 383.0,1130.4 388.0,1131.0 393.0,1130.6 398.0,1130.4 401.0,1130.4 404.0,1130.4 406.5,1126.3 414.6,1119.4 414.4,1108.0 421.0,1119.4 423.0,1103.1 428.2,1101.0 432.0,1086.3 439.3,1082.0 440.5,1078.8 442.0,1069.7 448.5,1072.5 452.1,1051.0 462.8,917.1 468.4,951.1 468.8,966.2 473.7,1018.8 510.5,1018.8 523.2,964.8" fill="none" stroke="#262626" stroke-width="1.25" stroke-linejoin="round" />
<path d="M168.3 1019.9h5.8v5.8h-5.8zM171.1 1019.9h5.8v5.8h-5.8zM174.9 1015.9h5.8v5.8h-5.8zM215.5 1015.9h5.8v5.8h-5.8zM239.7 1060.7h5.8v5.8h-5.8zM251.0 1062.1h5.8v5.8h-5.8zM257.5 1089.1h5.8v5.8h-5.8zM258.3 1106.1h5.8v5.8h-5.8zM265.7 1107.1h5.8v5.8h-5.8zM264.9 1115.1h5.8v5.8h-5.8zM291.5 1123.1h5.8v5.8h-5.8zM293.5 1116.1h5.8v5.8h-5.8zM295.2 1100.1h5.8v5.8h-5.8zM298.1 1093.7h5.8v5.8h-5.8zM299.1 1108.1h5.8v5.8h-5.8zM301.3 1116.1h5.8v5.8h-5.8zM308.7 1114.9h5.8v5.8h-5.8zM334.9 1108.1h5.8v5.8h-5.8zM357.5 1111.0h5.8v5.8h-5.8zM360.7 1116.1h5.8v5.8h-5.8zM365.9 1122.3h5.8v5.8h-5.8zM370.6 1125.1h5.8v5.8h-5.8zM375.1 1126.7h5.8v5.8h-5.8zM380.1 1127.5h5.8v5.8h-5.8zM385.1 1128.1h5.8v5.8h-5.8zM390.1 1127.7h5.8v5.8h-5.8zM395.1 1127.5h5.8v5.8h-5.8zM398.1 1127.5h5.8v5.8h-5.8zM401.1 1127.5h5.8v5.8h-5.8zM403.6 1123.4h5.8v5.8h-5.8zM411.7 1116.5h5.8v5.8h-5.8zM411.5 1105.1h5.8v5.8h-5.8zM418.1 1116.5h5.8v5.8h-5.8zM420.1 1100.2h5.8v5.8h-5.8zM425.3 1098.1h5.8v5.8h-5.8zM429.1 1083.4h5.8v5.8h-5.8zM436.4 1079.1h5.8v5.8h-5.8zM437.6 1075.9h5.8v5.8h-5.8zM439.1 1066.8h5.8v5.8h-5.8zM445.6 1069.6h5.8v5.8h-5.8zM449.2 1048.1h5.8v5.8h-5.8zM465.5 948.2h5.8v5.8h-5.8zM465.9 963.3h5.8v5.8h-5.8zM470.8 1015.9h5.8v5.8h-5.8zM507.6 1015.9h5.8v5.8h-5.8zM520.3 961.9h5.8v5.8h-5.8z" fill="#000"/>
<rect x="227.5" y="920.1" width="8.0" height="7.2" fill="#fa0014" stroke="#9c0088" stroke-width="1.6"/>
<rect x="458.8" y="913.5" width="8.0" height="7.2" fill="#fa0014" stroke="#9c0088" stroke-width="1.6"/>
<ellipse cx="254.6" cy="1066.5" rx="36.4" ry="30.4" fill="none" stroke="#f41414" stroke-width="2.1"/>
<text transform="matrix(0.2712 0 0 0.2514 125.84 694.80)" font-size="100" fill="#000" stroke="#000" stroke-width="1.3">70</text>
<text transform="matrix(0.2725 0 0 0.2514 125.84 773.57)" font-size="100" fill="#000" stroke="#000" stroke-width="1.3">65</text>
<text transform="matrix(0.2712 0 0 0.2514 125.84 852.34)" font-size="100" fill="#000" stroke="#000" stroke-width="1.3">60</text>
<text transform="matrix(0.2699 0 0 0.2551 126.12 931.11)" font-size="100" fill="#000" stroke="#000" stroke-width="1.3">55</text>
<text transform="matrix(0.2686 0 0 0.2514 126.13 1009.88)" font-size="100" fill="#000" stroke="#000" stroke-width="1.3">50</text>
<text transform="matrix(0.2648 0 0 0.2551 126.67 1088.65)" font-size="100" fill="#000" stroke="#000" stroke-width="1.3">45</text>
<text transform="matrix(0.2635 0 0 0.2514 126.67 1167.42)" font-size="100" fill="#000" stroke="#000" stroke-width="1.3">40</text>
<text transform="matrix(0.2833 0 0 0.2429 163.27 1193.00)" font-size="100" fill="#000" stroke="#000" stroke-width="1.3">0</text>
<text transform="matrix(0.2765 0 0 0.2429 205.63 1193.00)" font-size="100" fill="#000" stroke="#000" stroke-width="1.3">100</text>
<text transform="matrix(0.2722 0 0 0.2429 264.34 1193.00)" font-size="100" fill="#000" stroke="#000" stroke-width="1.3">200</text>
<text transform="matrix(0.2704 0 0 0.2429 322.62 1193.00)" font-size="100" fill="#000" stroke="#000" stroke-width="1.3">300</text>
<text transform="matrix(0.2671 0 0 0.2429 381.17 1193.00)" font-size="100" fill="#000" stroke="#000" stroke-width="1.3">400</text>
<text transform="matrix(0.2704 0 0 0.2429 438.62 1193.00)" font-size="100" fill="#000" stroke="#000" stroke-width="1.3">500</text>
<text transform="matrix(0.2722 0 0 0.2429 496.34 1193.00)" font-size="100" fill="#000" stroke="#000" stroke-width="1.3">600</text>
<text transform="matrix(0.2722 0 0 0.2429 554.34 1193.00)" font-size="100" fill="#000" stroke="#000" stroke-width="1.3">700</text>
<polygon points="784.7,919.2 793.9,1066.5 829.2,1067.0 834.3,1095.4 835.4,1110.9 841.4,1112.0 841.0,1120.9 863.6,1128.7 866.1,1121.4 867.6,1105.4 870.3,1098.7 871.0,1113.1 873.2,1121.4 878.7,1120.5 903.2,1113.1 921.1,1116.5 924.4,1122.0 928.9,1128.7 933.0,1130.5 937.0,1131.6 941.5,1132.5 946.6,1133.1 950.5,1132.8 954.4,1132.5 958.0,1132.5 961.0,1132.5 963.3,1127.6 971.0,1122.0 969.5,1110.2 975.0,1122.0 976.6,1105.4 980.4,1103.1 984.4,1088.7 991.7,1084.9 993.2,1081.4 993.2,1072.5 999.9,1074.7 1002.1,1053.6 1011.2,919.2" fill="#00ffff"/>
<line x1="784.40" y1="917.50" x2="1011.50" y2="917.50" stroke="#d0b8ff" stroke-width="1.5" />
<line x1="784.90" y1="919.20" x2="1011.50" y2="919.20" stroke="#1c70ff" stroke-width="2.0" />
<line x1="706.00" y1="686.70" x2="706.00" y2="1170.00" stroke="#7c7c7c" stroke-width="2.6" />
<line x1="695.00" y1="1161.00" x2="1112.00" y2="1161.00" stroke="#777" stroke-width="2.4" />
<line x1="695.60" y1="687.60" x2="706.00" y2="687.60" stroke="#5c5c5c" stroke-width="1.8" />
<line x1="695.60" y1="766.50" x2="706.00" y2="766.50" stroke="#5c5c5c" stroke-width="1.8" />
<line x1="695.60" y1="845.40" x2="706.00" y2="845.40" stroke="#5c5c5c" stroke-width="1.8" />
<line x1="695.60" y1="924.30" x2="706.00" y2="924.30" stroke="#5c5c5c" stroke-width="1.8" />
<line x1="695.60" y1="1003.20" x2="706.00" y2="1003.20" stroke="#5c5c5c" stroke-width="1.8" />
<line x1="695.60" y1="1082.10" x2="706.00" y2="1082.10" stroke="#5c5c5c" stroke-width="1.8" />
<line x1="695.60" y1="1161.00" x2="706.00" y2="1161.00" stroke="#5c5c5c" stroke-width="1.8" />
<line x1="701.00" y1="703.38" x2="706.00" y2="703.38" stroke="#5c5c5c" stroke-width="1.8" />
<line x1="701.00" y1="719.16" x2="706.00" y2="719.16" stroke="#5c5c5c" stroke-width="1.8" />
<line x1="701.00" y1="734.94" x2="706.00" y2="734.94" stroke="#5c5c5c" stroke-width="1.8" />
<line x1="701.00" y1="750.72" x2="706.00" y2="750.72" stroke="#5c5c5c" stroke-width="1.8" />
<line x1="701.00" y1="782.28" x2="706.00" y2="782.28" stroke="#5c5c5c" stroke-width="1.8" />
<line x1="701.00" y1="798.06" x2="706.00" y2="798.06" stroke="#5c5c5c" stroke-width="1.8" />
<line x1="701.00" y1="813.84" x2="706.00" y2="813.84" stroke="#5c5c5c" stroke-width="1.8" />
<line x1="701.00" y1="829.62" x2="706.00" y2="829.62" stroke="#5c5c5c" stroke-width="1.8" />
<line x1="701.00" y1="861.18" x2="706.00" y2="861.18" stroke="#5c5c5c" stroke-width="1.8" />
<line x1="701.00" y1="876.96" x2="706.00" y2="876.96" stroke="#5c5c5c" stroke-width="1.8" />
<line x1="701.00" y1="892.74" x2="706.00" y2="892.74" stroke="#5c5c5c" stroke-width="1.8" />
<line x1="701.00" y1="908.52" x2="706.00" y2="908.52" stroke="#5c5c5c" stroke-width="1.8" />
<line x1="701.00" y1="940.08" x2="706.00" y2="940.08" stroke="#5c5c5c" stroke-width="1.8" />
<line x1="701.00" y1="955.86" x2="706.00" y2="955.86" stroke="#5c5c5c" stroke-width="1.8" />
<line x1="701.00" y1="971.64" x2="706.00" y2="971.64" stroke="#5c5c5c" stroke-width="1.8" />
<line x1="701.00" y1="987.42" x2="706.00" y2="987.42" stroke="#5c5c5c" stroke-width="1.8" />
<line x1="701.00" y1="1018.98" x2="706.00" y2="1018.98" stroke="#5c5c5c" stroke-width="1.8" />
<line x1="701.00" y1="1034.76" x2="706.00" y2="1034.76" stroke="#5c5c5c" stroke-width="1.8" />
<line x1="701.00" y1="1050.54" x2="706.00" y2="1050.54" stroke="#5c5c5c" stroke-width="1.8" />
<line x1="701.00" y1="1066.32" x2="706.00" y2="1066.32" stroke="#5c5c5c" stroke-width="1.8" />
<line x1="701.00" y1="1097.88" x2="706.00" y2="1097.88" stroke="#5c5c5c" stroke-width="1.8" />
<line x1="701.00" y1="1113.66" x2="706.00" y2="1113.66" stroke="#5c5c5c" stroke-width="1.8" />
<line x1="701.00" y1="1129.44" x2="706.00" y2="1129.44" stroke="#5c5c5c" stroke-width="1.8" />
<line x1="701.00" y1="1145.22" x2="706.00" y2="1145.22" stroke="#5c5c5c" stroke-width="1.8" />
<line x1="706.00" y1="1161.00" x2="706.00" y2="1170.00" stroke="#8e8e8e" stroke-width="3.2" />
<line x1="756.64" y1="1161.00" x2="756.64" y2="1170.00" stroke="#8e8e8e" stroke-width="3.2" />
<line x1="807.28" y1="1161.00" x2="807.28" y2="1170.00" stroke="#8e8e8e" stroke-width="3.2" />
<line x1="857.92" y1="1161.00" x2="857.92" y2="1170.00" stroke="#8e8e8e" stroke-width="3.2" />
<line x1="908.56" y1="1161.00" x2="908.56" y2="1170.00" stroke="#8e8e8e" stroke-width="3.2" />
<line x1="959.20" y1="1161.00" x2="959.20" y2="1170.00" stroke="#8e8e8e" stroke-width="3.2" />
<line x1="1009.84" y1="1161.00" x2="1009.84" y2="1170.00" stroke="#8e8e8e" stroke-width="3.2" />
<line x1="1060.48" y1="1161.00" x2="1060.48" y2="1170.00" stroke="#8e8e8e" stroke-width="3.2" />
<line x1="1111.12" y1="1161.00" x2="1111.12" y2="1170.00" stroke="#8e8e8e" stroke-width="3.2" />
<line x1="731.32" y1="1161.00" x2="731.32" y2="1166.00" stroke="#8e8e8e" stroke-width="3.2" />
<line x1="781.96" y1="1161.00" x2="781.96" y2="1166.00" stroke="#8e8e8e" stroke-width="3.2" />
<line x1="832.60" y1="1161.00" x2="832.60" y2="1166.00" stroke="#8e8e8e" stroke-width="3.2" />
<line x1="883.24" y1="1161.00" x2="883.24" y2="1166.00" stroke="#8e8e8e" stroke-width="3.2" />
<line x1="933.88" y1="1161.00" x2="933.88" y2="1166.00" stroke="#8e8e8e" stroke-width="3.2" />
<line x1="984.52" y1="1161.00" x2="984.52" y2="1166.00" stroke="#8e8e8e" stroke-width="3.2" />
<line x1="1035.16" y1="1161.00" x2="1035.16" y2="1166.00" stroke="#8e8e8e" stroke-width="3.2" />
<line x1="1085.80" y1="1161.00" x2="1085.80" y2="1166.00" stroke="#8e8e8e" stroke-width="3.2" />
<line x1="731.60" y1="680.00" x2="747.60" y2="680.00" stroke="#484848" stroke-width="2.3" />
<line x1="767.60" y1="680.00" x2="888.00" y2="680.00" stroke="#484848" stroke-width="2.3" />
<line x1="909.00" y1="680.00" x2="1026.00" y2="680.00" stroke="#484848" stroke-width="2.3" />
<line x1="1048.00" y1="680.00" x2="1065.00" y2="680.00" stroke="#484848" stroke-width="2.3" />
<text transform="matrix(0.0877 0 0 0.0743 748.81 682.60)" font-size="100" fill="#7c7c7c" stroke="#7c7c7c" stroke-width="0">.024</text>
<text transform="matrix(0.0932 0 0 0.0743 889.16 682.60)" font-size="100" fill="#7c7c7c" stroke="#7c7c7c" stroke-width="0">.024</text>
<text transform="matrix(0.0986 0 0 0.0743 1027.11 682.60)" font-size="100" fill="#7c7c7c" stroke="#7c7c7c" stroke-width="0">.024</text>
<line x1="785.00" y1="670.60" x2="785.00" y2="680.00" stroke="#9a9a9a" stroke-width="3.8" />
<line x1="780.40" y1="680.00" x2="789.60" y2="680.00" stroke="#222" stroke-width="2.6" />
<circle cx="781.9" cy="680" r="1.5" fill="#000"/><circle cx="788.1" cy="680" r="1.5" fill="#000"/>
<line x1="1010.60" y1="670.60" x2="1010.60" y2="680.00" stroke="#9a9a9a" stroke-width="3.8" />
<line x1="1006.00" y1="680.00" x2="1015.20" y2="680.00" stroke="#222" stroke-width="2.6" />
<circle cx="1007.5" cy="680" r="1.5" fill="#000"/><circle cx="1013.7" cy="680" r="1.5" fill="#000"/>
<line x1="731.60" y1="671.00" x2="731.60" y2="688.00" stroke="#3c3c3c" stroke-width="2.2" />
<line x1="1065.00" y1="671.00" x2="1065.00" y2="688.00" stroke="#3c3c3c" stroke-width="2.2" />
<path d="M733.0 680.0l4 -2.4v4.8z" fill="#222"/>
<path d="M1063.5 680.0l-4 -2.4v4.8z" fill="#222"/>
<line x1="784.20" y1="691.60" x2="784.20" y2="923.00" stroke="#ff80ff" stroke-width="2.0" />
<line x1="786.10" y1="691.60" x2="786.10" y2="923.00" stroke="#ffc6ff" stroke-width="1.8" />
<rect x="781.2" y="684.2" width="7.6" height="6.2" rx="1" fill="#fdf" stroke="#ff4cff" stroke-width="2.9"/>
<line x1="785.00" y1="682.60" x2="785.00" y2="687.10" stroke="#777" stroke-width="2.4" />
<line x1="1010.20" y1="691.60" x2="1010.20" y2="916.00" stroke="#ff80ff" stroke-width="2.0" />
<line x1="1012.10" y1="691.60" x2="1012.10" y2="916.00" stroke="#ffc6ff" stroke-width="1.8" />
<rect x="1007.2" y="684.2" width="7.6" height="6.2" rx="1" fill="#fdf" stroke="#ff4cff" stroke-width="2.9"/>
<line x1="1011.00" y1="682.60" x2="1011.00" y2="687.10" stroke="#777" stroke-width="2.4" />
<polyline points="730.0,1025.0 733.5,1025.0 737.7,1021.4 773.3,1021.4 784.4,926.0 793.9,1066.5 829.2,1067.0 834.3,1095.4 835.4,1110.9 841.4,1112.0 841.0,1120.9 863.6,1128.7 866.1,1121.4 867.6,1105.4 870.3,1098.7 871.0,1113.1 873.2,1121.4 878.7,1120.5 903.2,1113.1 921.1,1116.5 924.4,1122.0 928.9,1128.7 933.0,1130.5 937.0,1131.6 941.5,1132.5 946.6,1133.1 950.5,1132.8 954.4,1132.5 958.0,1132.5 961.0,1132.5 963.3,1127.6 971.0,1122.0 969.5,1110.2 975.0,1122.0 976.6,1105.4 980.4,1103.1 984.4,1088.7 991.7,1084.9 993.2,1081.4 993.2,1072.5 999.9,1074.7 1002.1,1053.6 1011.5,919.3 1017.2,953.7 1017.2,968.4 1021.0,1021.4 1052.8,1021.4 1065.4,967.0" fill="none" stroke="#262626" stroke-width="1.25" stroke-linejoin="round" />
<path d="M727.1 1022.1h5.8v5.8h-5.8zM730.6 1022.1h5.8v5.8h-5.8zM734.8 1018.5h5.8v5.8h-5.8zM770.4 1018.5h5.8v5.8h-5.8zM791.0 1063.6h5.8v5.8h-5.8zM826.3 1064.1h5.8v5.8h-5.8zM831.4 1092.5h5.8v5.8h-5.8zM832.5 1108.0h5.8v5.8h-5.8zM838.5 1109.1h5.8v5.8h-5.8zM838.1 1118.0h5.8v5.8h-5.8zM860.7 1125.8h5.8v5.8h-5.8zM863.2 1118.5h5.8v5.8h-5.8zM864.7 1102.5h5.8v5.8h-5.8zM867.4 1095.8h5.8v5.8h-5.8zM868.1 1110.2h5.8v5.8h-5.8zM870.3 1118.5h5.8v5.8h-5.8zM875.8 1117.6h5.8v5.8h-5.8zM900.3 1110.2h5.8v5.8h-5.8zM918.2 1113.6h5.8v5.8h-5.8zM921.5 1119.1h5.8v5.8h-5.8zM926.0 1125.8h5.8v5.8h-5.8zM930.1 1127.6h5.8v5.8h-5.8zM934.1 1128.7h5.8v5.8h-5.8zM938.6 1129.6h5.8v5.8h-5.8zM943.7 1130.2h5.8v5.8h-5.8zM947.6 1129.9h5.8v5.8h-5.8zM951.5 1129.6h5.8v5.8h-5.8zM955.1 1129.6h5.8v5.8h-5.8zM958.1 1129.6h5.8v5.8h-5.8zM960.4 1124.7h5.8v5.8h-5.8zM968.1 1119.1h5.8v5.8h-5.8zM966.6 1107.3h5.8v5.8h-5.8zM972.1 1119.1h5.8v5.8h-5.8zM973.7 1102.5h5.8v5.8h-5.8zM977.5 1100.2h5.8v5.8h-5.8zM981.5 1085.8h5.8v5.8h-5.8zM988.8 1082.0h5.8v5.8h-5.8zM990.3 1078.5h5.8v5.8h-5.8zM990.3 1069.6h5.8v5.8h-5.8zM997.0 1071.8h5.8v5.8h-5.8zM999.2 1050.7h5.8v5.8h-5.8zM1014.3 950.8h5.8v5.8h-5.8zM1014.3 965.5h5.8v5.8h-5.8zM1018.1 1018.5h5.8v5.8h-5.8zM1049.9 1018.5h5.8v5.8h-5.8zM1062.5 964.1h5.8v5.8h-5.8z" fill="#000"/>
<rect x="780.4" y="922.4" width="8.0" height="7.2" fill="#fa0014" stroke="#9c0088" stroke-width="1.6"/>
<rect x="1007.5" y="915.7" width="8.0" height="7.2" fill="#fa0014" stroke="#9c0088" stroke-width="1.6"/>
<ellipse cx="812" cy="1066.5" rx="36" ry="30.4" fill="none" stroke="#f41414" stroke-width="2.1"/>
<text transform="matrix(0.2537 0 0 0.2429 663.33 696.60)" font-size="100" fill="#000" stroke="#000" stroke-width="1.3">70</text>
<text transform="matrix(0.2549 0 0 0.2429 663.33 775.50)" font-size="100" fill="#000" stroke="#000" stroke-width="1.3">65</text>
<text transform="matrix(0.2537 0 0 0.2429 663.33 854.40)" font-size="100" fill="#000" stroke="#000" stroke-width="1.3">60</text>
<text transform="matrix(0.2524 0 0 0.2464 663.59 933.30)" font-size="100" fill="#000" stroke="#000" stroke-width="1.3">55</text>
<text transform="matrix(0.2512 0 0 0.2429 663.60 1012.20)" font-size="100" fill="#000" stroke="#000" stroke-width="1.3">50</text>
<text transform="matrix(0.2476 0 0 0.2464 664.10 1091.10)" font-size="100" fill="#000" stroke="#000" stroke-width="1.3">45</text>
<text transform="matrix(0.2464 0 0 0.2429 664.11 1170.00)" font-size="100" fill="#000" stroke="#000" stroke-width="1.3">40</text>
<text transform="matrix(0.2552 0 0 0.2400 679.85 1194.20)" font-size="100" fill="#000" stroke="#000" stroke-width="1.3">-100</text>
<text transform="matrix(0.2625 0 0 0.2400 749.29 1194.20)" font-size="100" fill="#000" stroke="#000" stroke-width="1.3">0</text>
<text transform="matrix(0.2508 0 0 0.2400 785.90 1194.20)" font-size="100" fill="#000" stroke="#000" stroke-width="1.3">100</text>
<text transform="matrix(0.2468 0 0 0.2400 837.19 1194.20)" font-size="100" fill="#000" stroke="#000" stroke-width="1.3">200</text>
<text transform="matrix(0.2453 0 0 0.2400 888.08 1194.20)" font-size="100" fill="#000" stroke="#000" stroke-width="1.3">300</text>
<text transform="matrix(0.2422 0 0 0.2400 939.22 1194.20)" font-size="100" fill="#000" stroke="#000" stroke-width="1.3">400</text>
<text transform="matrix(0.2453 0 0 0.2400 989.36 1194.20)" font-size="100" fill="#000" stroke="#000" stroke-width="1.3">500</text>
<text transform="matrix(0.2468 0 0 0.2400 1039.75 1194.20)" font-size="100" fill="#000" stroke="#000" stroke-width="1.3">600</text>
<text transform="matrix(0.2468 0 0 0.2400 1090.39 1194.20)" font-size="100" fill="#000" stroke="#000" stroke-width="1.3">700</text>
<text transform="matrix(0 -0.3466 0.3739 0 44.80 395.37)" font-size="100" fill="#000" stroke="#000" stroke-width="1.1">Elevation (m)</text>
<text transform="matrix(0 -0.3263 0.4029 0 50.80 1018.21)" font-size="100" fill="#000" stroke="#000" stroke-width="1.1">Elevation (m)</text>
<text transform="matrix(0.3707 0 0 0.3571 275.73 644.40)" font-size="100" fill="#000" stroke="#000" stroke-width="1.3">Station (m)</text>
<text transform="matrix(0.3715 0 0 0.3600 819.33 630.00)" font-size="100" fill="#000" stroke="#000" stroke-width="1.3">Station (m)</text>
<text transform="matrix(0.3749 0 0 0.3314 282.31 1254.40)" font-size="100" fill="#000" stroke="#000" stroke-width="1.3">Station (m)</text>
<text transform="matrix(0.3745 0 0 0.3371 817.31 1257.60)" font-size="100" fill="#000" stroke="#000" stroke-width="1.3">Station (m)</text>
<line x1="544.60" y1="269.60" x2="645.00" y2="271.90" stroke="#ff0000" stroke-width="7.2" />
<polygon points="644.3,282.5 665.0,272.4 644.7,261.3" fill="#ff0000"/>
<line x1="535.80" y1="903.30" x2="637.00" y2="905.40" stroke="#ff0000" stroke-width="6.8" />
<polygon points="636.3,915.4 657.0,906.0 636.7,895.4" fill="#ff0000"/>
</svg>
</body></html>
